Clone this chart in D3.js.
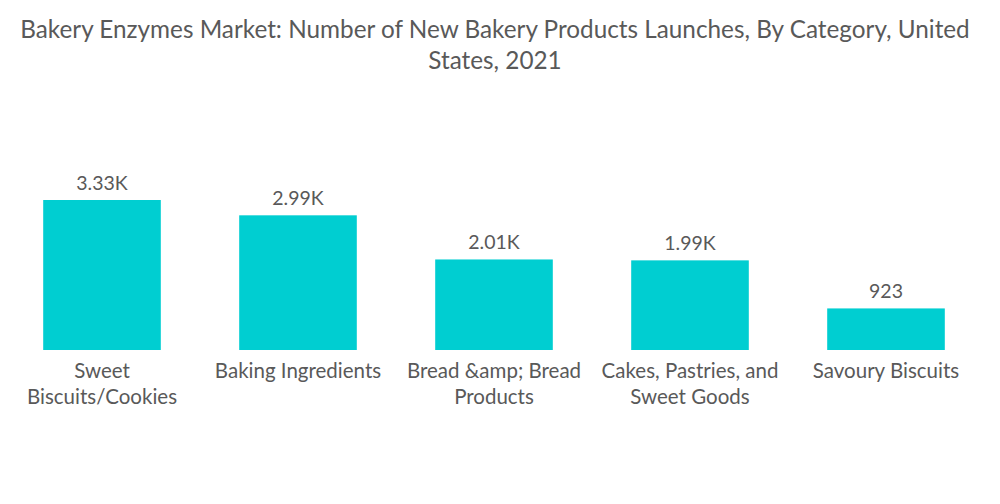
<!DOCTYPE html>
<html>
<head>
<meta charset="utf-8">
<script src="https://cdn.jsdelivr.net/npm/d3@7/dist/d3.min.js"></script>
<style>
  html, body { margin: 0; padding: 0; background: #fff; }
  svg { display: block; }
</style>
</head>
<body>
<svg id="chart" width="1000" height="504"></svg>
<script>
const titleLines = ["Bakery Enzymes Market: Number of New Bakery Products Launches, By Category, United", "States, 2021"];
const categories = ["Sweet Biscuits/Cookies", "Baking Ingredients", "Bread &amp; Bread Products", "Cakes, Pastries, and Sweet Goods", "Savoury Biscuits"];
const values = [3330, 2990, 2010, 1990, 923];

const W = 1000, H = 504;
const baseline = 350;
const svg = d3.select("#chart");
const font = "Lato, 'Open Sans', sans-serif";
const textColor = "#595959";

// Title
svg.append("text")
  .attr("text-anchor", "middle")
  .attr("font-family", font)
  .attr("font-size", 24.3)
  .attr("fill", textColor)
  .selectAll("tspan")
  .data(titleLines)
  .join("tspan")
  .attr("x", W / 2 - 5)
  .attr("y", (d, i) => 38 + i * 31)
  .text(d => d);

const x = d3.scaleBand()
  .domain(categories)
  .range([4, 984])
  .paddingInner(0.4)
  .paddingOuter(0.2);

const y = d3.scaleLinear()
  .domain([0, 3330])
  .range([baseline, 200]);

const fmt = v => v >= 1000 ? (v / 1000).toFixed(2) + "K" : String(v);

svg.append("g")
  .selectAll("rect")
  .data(values)
  .join("rect")
  .attr("x", (d, i) => x(categories[i]))
  .attr("y", d => y(d))
  .attr("width", x.bandwidth())
  .attr("height", d => baseline - y(d))
  .attr("fill", "#00CED1");

svg.append("g")
  .selectAll("text")
  .data(values)
  .join("text")
  .attr("x", (d, i) => x(categories[i]) + x.bandwidth() / 2)
  .attr("y", d => y(d) - 10)
  .attr("text-anchor", "middle")
  .attr("font-family", font)
  .attr("font-size", 19.5)
  .attr("fill", textColor)
  .text(d => fmt(d));

// Category labels with wrapping
const maxW = 188;
const labelG = svg.append("g");
categories.forEach((c, i) => {
  const cx = x(c) + x.bandwidth() / 2;
  const t = labelG.append("text")
    .attr("text-anchor", "middle")
    .attr("font-family", font)
    .attr("font-size", 20.5)
    .attr("fill", textColor);
  const words = c.split(" ");
  let lines = [];
  let cur = [];
  const probe = t.append("tspan");
  words.forEach(w => {
    const test = cur.concat([w]).join(" ");
    probe.text(test);
    if (probe.node().getComputedTextLength() > maxW && cur.length) {
      lines.push(cur.join(" "));
      cur = [w];
    } else {
      cur.push(w);
    }
  });
  if (cur.length) lines.push(cur.join(" "));
  probe.remove();
  lines.forEach((l, j) => {
    t.append("tspan").attr("x", cx).attr("y", 378 + j * 26).text(l);
  });
});
</script>
</body>
</html>
